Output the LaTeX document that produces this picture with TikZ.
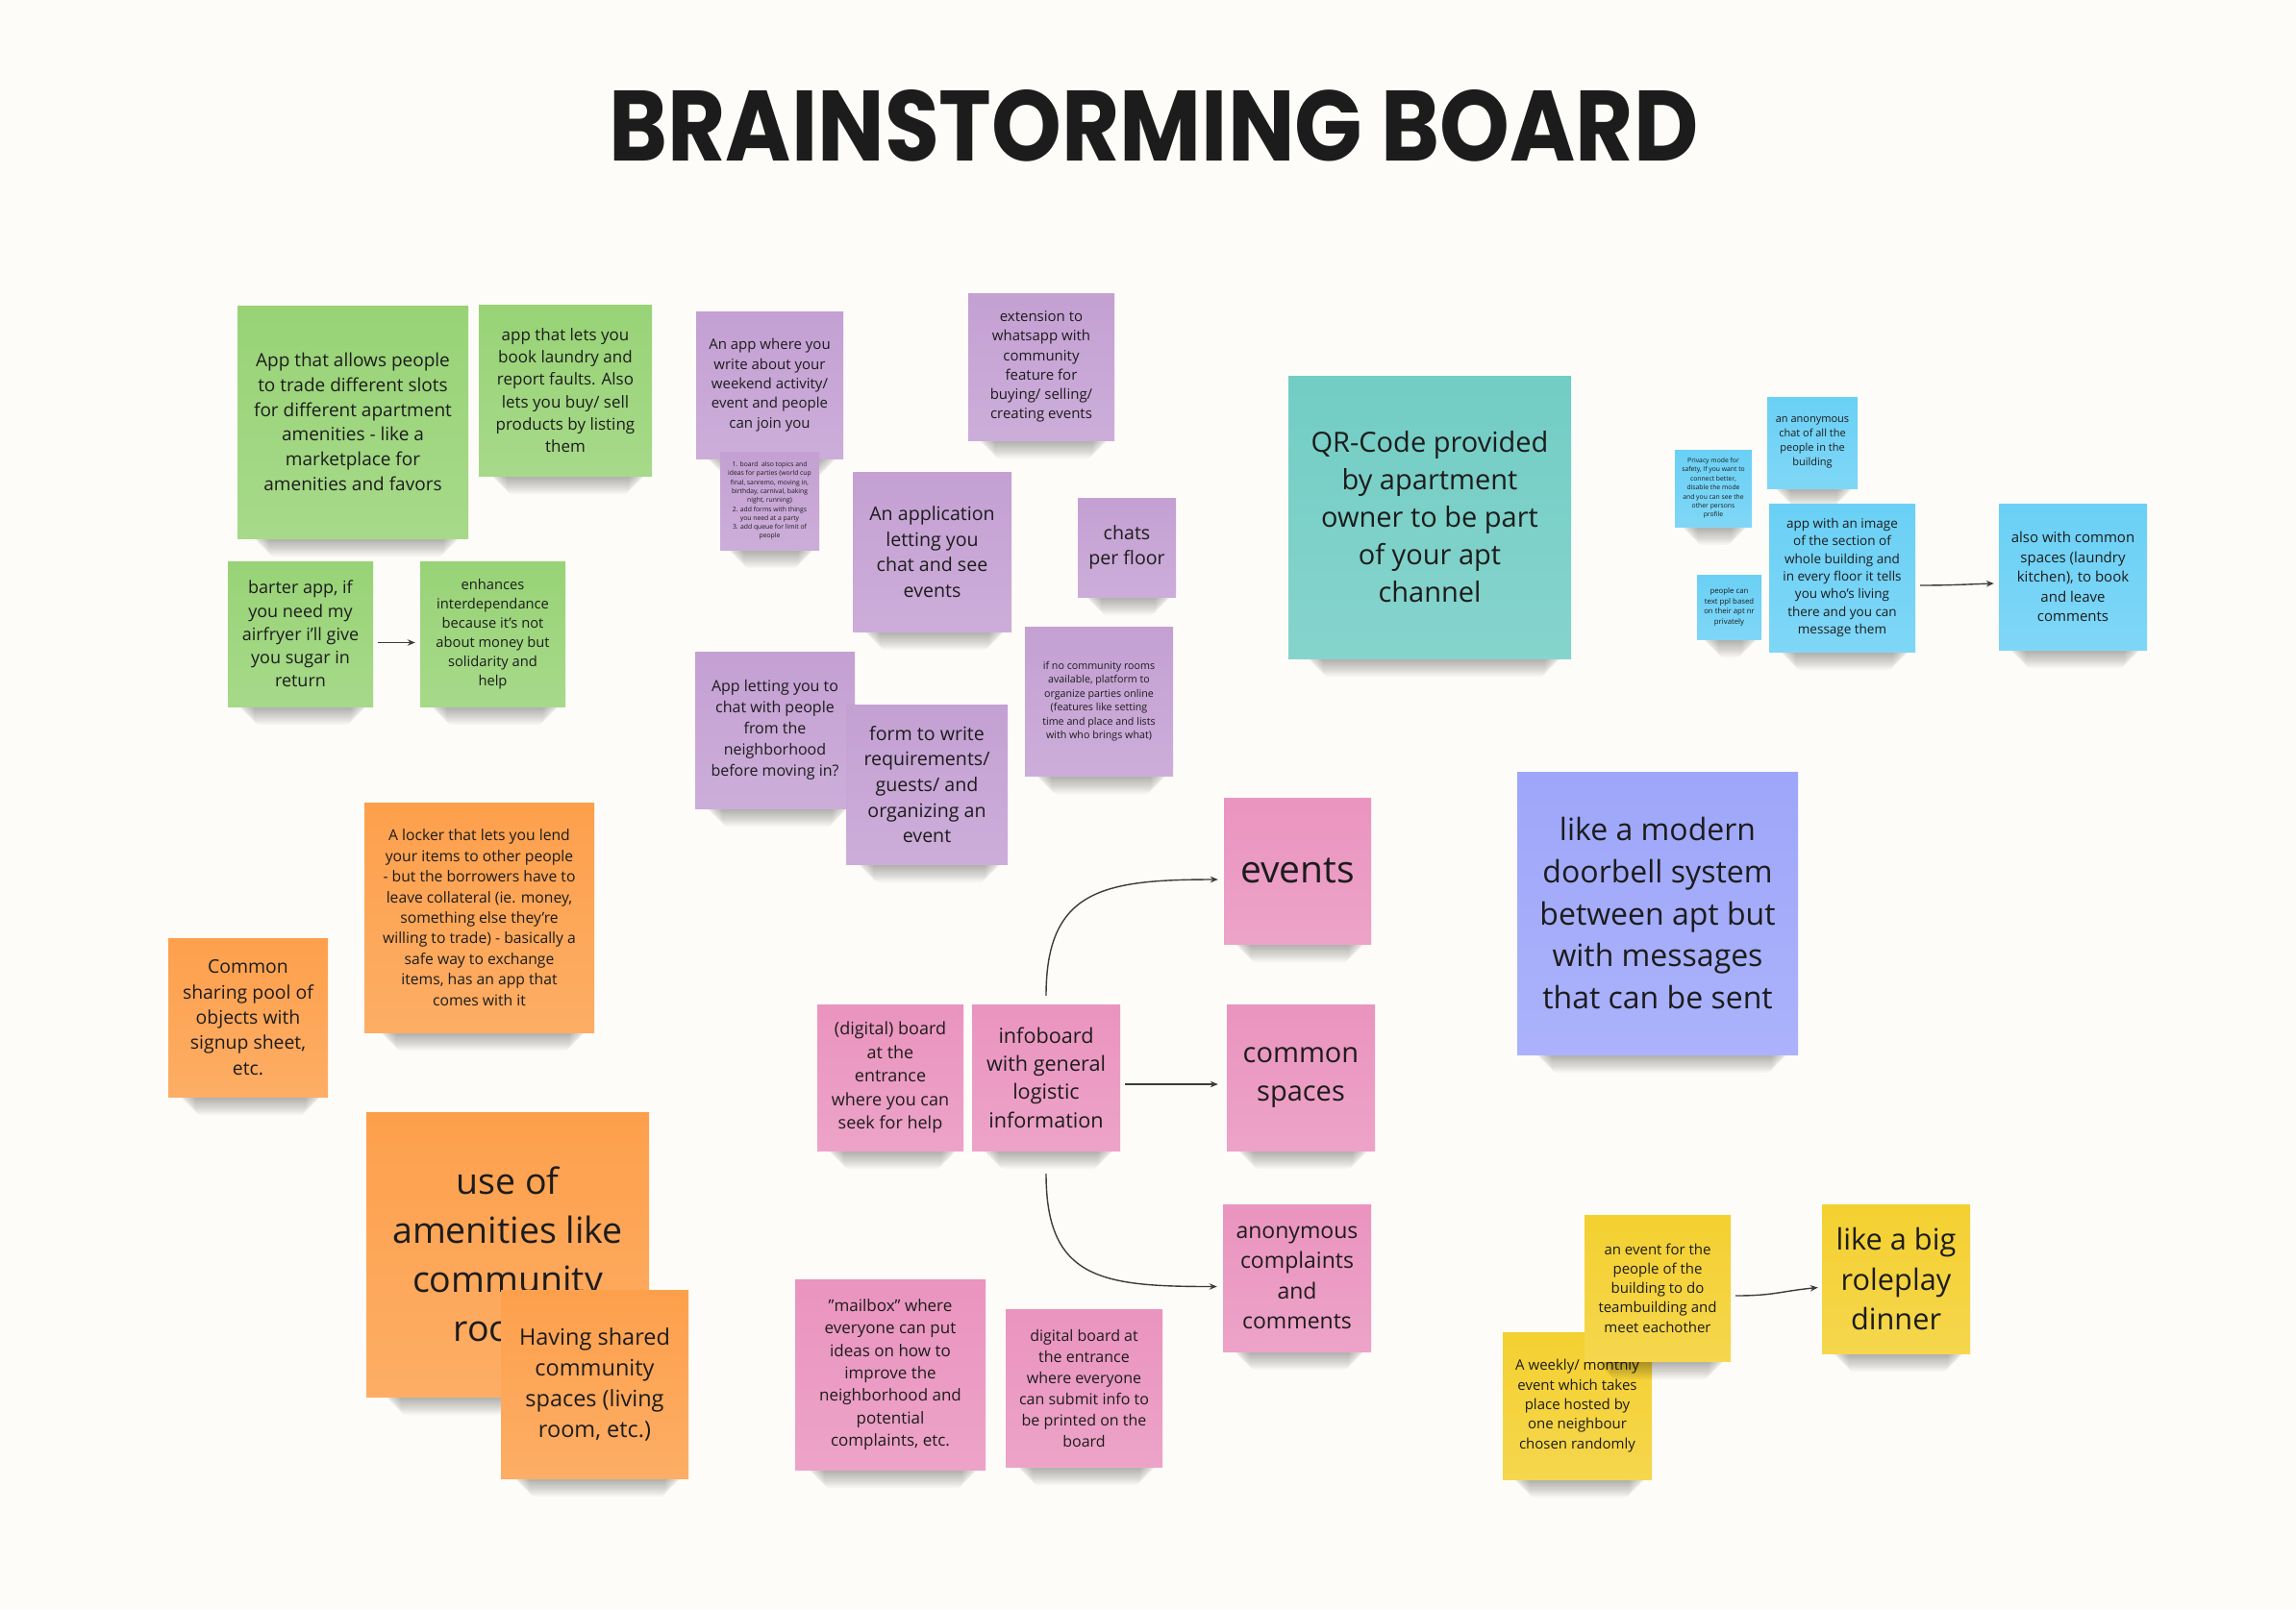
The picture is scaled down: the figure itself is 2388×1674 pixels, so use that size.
\documentclass[tikz,border=0pt]{standalone}
\usepackage{fontspec}
\setmainfont{Open Sans}
\newfontfamily\titlefont{Poppins}
\usetikzlibrary{arrows.meta,calc}
\definecolor{bgc}{RGB}{253,252,248}
\definecolor{inkc}{RGB}{28,28,28}
\definecolor{linkc}{RGB}{60,60,60}
\definecolor{cgreen}{RGB}{152,211,118}
\definecolor{cpurple}{RGB}{196,160,211}
\definecolor{cteal}{RGB}{114,205,196}
\definecolor{cblue}{RGB}{106,208,245}
\definecolor{clav}{RGB}{158,166,250}
\definecolor{cpink}{RGB}{234,148,191}
\definecolor{corange}{RGB}{253,160,76}
\definecolor{cyellow}{RGB}{244,208,48}
\tikzset{
  notebox/.style={inner sep=2pt, align=center, text=inkc},
  link/.style={draw=linkc, line width=1.4pt, -{Stealth[length=8pt,width=6.5pt]}},
  shadowlayer/.style={fill=black, opacity=0.032, rounded corners=6pt},
}
% name, x1, y1, x2, y2, colour, font size, line skip, text
\newcommand\snote[9]{%
  \foreach \i in {1,...,10}{%
    \path[shadowlayer] ({#2+0.06*(#4-#2)+1.8*\i},{#5-14}) rectangle ({#4-0.03*(#4-#2)-1.8*\i},{#5+1+1.8*\i});}%
  \node[notebox, minimum width={(#4-#2)*1pt}, minimum height={(#5-#3)*1pt},
        top color=#6, bottom color=#6!86!white,
        font=\fontsize{#7pt}{#8pt}\selectfont] (#1) at ({(#2+#4)/2},{(#3+#5)/2}) {#9};%
}
\begin{document}
\begin{tikzpicture}[x=1pt,y=-1pt]
\fill[bgc] (0,0) rectangle (2388,1674);
\useasboundingbox (0,0) rectangle (2388,1674);

\node[font=\titlefont\bfseries\fontsize{104pt}{110pt}\selectfont, text=inkc, anchor=base, inner sep=0pt] (title) at (1200,167) {\scalebox{0.89}[1]{BRAINSTORMING BOARD}};

% green
\snote{g1}{247}{318}{487}{560}{cgreen}{19}{25.7}{App that allows people\\to trade different slots\\for different apartment\\amenities - like a\\marketplace for\\amenities and favors}
\snote{g2}{498}{317}{678}{495}{cgreen}{17}{23.3}{app that lets you\\book laundry and\\report faults. Also\\lets you buy/ sell\\products by listing\\them}
\snote{g3}{237}{584}{388}{735}{cgreen}{18}{24.3}{barter app, if\\you need my\\airfryer i'll give\\you sugar in\\return}
\snote{g4}{437}{584}{588}{735}{cgreen}{14.7}{20}{enhances\\interdependance\\because it's not\\about money but\\solidarity and\\help}

% purple
\snote{p1}{724}{324}{877}{477}{cpurple}{15}{20.3}{An app where you\\write about your\\weekend activity/\\event and people\\can join you}
\snote{p2}{749}{470}{852}{572}{cpurple}{6.8}{9.3}{1. board\ \ also topics and\\ideas for parties (world cup\\final, sanremo, moving in,\\birthday, carnival, baking\\night, running)\\2. add forms with things\\you need at a party\\3. add queue for limit of\\people}
\snote{p3}{1007}{305}{1159}{458}{cpurple}{15}{20.3}{extension to\\whatsapp with\\community\\feature for\\buying/ selling/\\creating events}
\snote{p4}{887}{491}{1052}{657}{cpurple}{19.6}{26.7}{An application\\letting you\\chat and see\\events}
\snote{p5}{1121}{518}{1223}{621}{cpurple}{19.6}{26.7}{chats\\per floor}
\snote{p6}{1066}{652}{1220}{807}{cpurple}{10.7}{14.5}{if no community rooms\\available, platform to\\organize parties online\\(features like setting\\time and place and lists\\with who brings what)}
\snote{p7}{723}{678}{889}{841}{cpurple}{16}{22}{App letting you to\\chat with people\\from the\\neighborhood\\before moving in?}
\snote{p8}{880}{733}{1048}{899}{cpurple}{19.6}{26.7}{form to write\\requirements/\\guests/ and\\organizing an\\event}

% teal
\snote{t1}{1340}{391}{1634}{685}{cteal}{29}{39}{QR-Code provided\\by apartment\\owner to be part\\of your apt\\channel}

% blue
\snote{b1}{1742}{468}{1822}{548}{cblue}{6.8}{9.4}{Privacy mode for\\safety, If you want to\\connect better,\\disable the mode\\and you can see the\\other persons\\profile}
\snote{b2}{1838}{413}{1932}{508}{cblue}{11}{15}{an anonymous\\chat of all the\\people in the\\building}
\snote{b3}{1765}{598}{1832}{665}{cblue}{7.8}{10.7}{people can\\text ppl based\\on their apt nr\\privately}
\snote{b4}{1840}{524}{1992}{678}{cblue}{13.5}{18.3}{app with an image\\of the section of\\whole building and\\in every floor it tells\\you who's living\\there and you can\\message them}
\snote{b5}{2079}{524}{2233}{676}{cblue}{15}{20.6}{also with common\\spaces (laundry\\kitchen), to book\\and leave\\comments}

% lavender
\snote{l1}{1578}{803}{1870}{1097}{clav}{32}{43.9}{like a modern\\doorbell system\\between apt but\\with messages\\that can be sent}

% orange
\snote{o1}{379}{835}{618}{1074}{corange}{15.7}{21.4}{A locker that lets you lend\\your items to other people\\- but the borrowers have to\\leave collateral (ie. money,\\something else they're\\willing to trade) - basically a\\safe way to exchange\\items, has an app that\\comes with it}
\snote{o2}{175}{976}{341}{1141}{corange}{19.4}{26.4}{Common\\sharing pool of\\objects with\\signup sheet,\\etc.}
\snote{o3}{381}{1157}{675}{1453}{corange}{37.5}{51}{use of\\amenities like\\community\\rooms}
\snote{o4}{521}{1342}{716}{1538}{corange}{23.5}{32}{Having shared\\community\\spaces (living\\room, etc.)}

% pink
\snote{k1}{850}{1045}{1002}{1197}{cpink}{18}{24.4}{(digital) board\\at the\\entrance\\where you can\\seek for help}
\snote{k2}{1011}{1045}{1165}{1197}{cpink}{21.6}{29.4}{infoboard\\with general\\logistic\\information}
\snote{k3}{1273}{830}{1426}{982}{cpink}{39}{50}{events}
\snote{k4}{1276}{1045}{1430}{1197}{cpink}{29}{39.6}{common\\spaces}
\snote{k5}{1272}{1253}{1426}{1406}{cpink}{23}{31.5}{anonymous\\complaints\\and\\comments}
\snote{k6}{827}{1331}{1025}{1529}{cpink}{17}{23.3}{"mailbox" where\\everyone can put\\ideas on how to\\improve the\\neighborhood and\\potential\\complaints, etc.}
\snote{k7}{1046}{1362}{1209}{1526}{cpink}{16}{22}{digital board at\\the entrance\\where everyone\\can submit info to\\be printed on the\\board}

% yellow
\snote{y2}{1563}{1386}{1718}{1539}{cyellow}{15}{20.3}{A weekly/ monthly\\event which takes\\place hosted by\\one neighbour\\chosen randomly}
\snote{y1}{1648}{1264}{1800}{1416}{cyellow}{15}{20.3}{an event for the\\people of the\\building to do\\teambuilding and\\meet eachother}
\snote{y3}{1895}{1253}{2049}{1408}{cyellow}{30.7}{41.7}{like a big\\roleplay\\dinner}

% connectors
\draw[link] ($(g3.east)+(5,9)$) -- ($(g4.west)+(-5,9)$);
\draw[link] ($(b4.east)+(5,8)$) .. controls +(30,0) and +(-30,1) .. ($(b5.west)+(-5,7)$);
\draw[link] ($(k2.north)+(0,-9)$) .. controls +(0,-110) and +(-120,0) .. ($(k3.west)+(-6,9)$);
\draw[link] ($(k2.east)+(5,7)$) -- ($(k4.west)+(-9,7)$);
\draw[link] ($(k2.south)+(0,24)$) .. controls +(0,110) and +(-120,0) .. ($(k5.west)+(-6,9)$);
\draw[link] ($(y1.east)+(5,8)$) .. controls +(40,0) and +(-40,4) .. ($(y3.west)+(-4,9)$);
\end{tikzpicture}
\end{document}
